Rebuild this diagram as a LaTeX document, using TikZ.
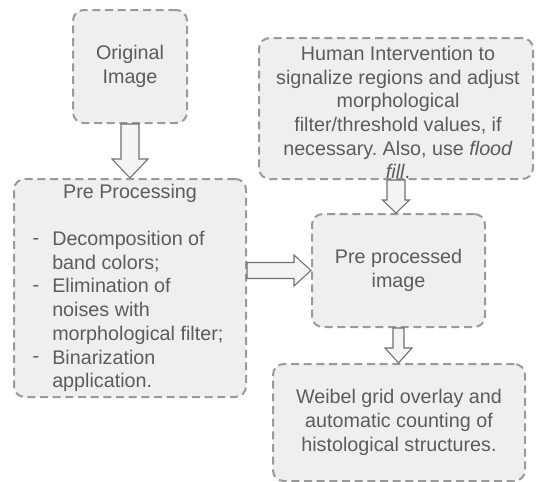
\documentclass[tikz,border=0pt]{standalone}
\usepackage{fontspec}
\setmainfont{Liberation Sans}
\usetikzlibrary{calc}
\frenchspacing
\definecolor{txt}{HTML}{5C5C5C}
\definecolor{boxfill}{HTML}{EFEFEF}
\definecolor{boxline}{HTML}{9A9A9A}
\definecolor{arrline}{HTML}{707070}
\definecolor{arrfill}{HTML}{F4F4F4}
\begin{document}
\begin{tikzpicture}[x=0.75pt,y=-0.75pt,
  box/.style={draw=boxline,fill=boxfill,line width=1.5pt,dash pattern=on 6pt off 3.5pt,
    rounded corners=8pt,inner sep=0pt,text=txt,align=center,
    font=\fontsize{14.8}{17.8}\selectfont},
  lbl/.style={inner sep=0pt,text=txt,font=\fontsize{14.8}{17.8}\selectfont},
  blk/.style={draw=arrline,fill=arrfill,line width=0.8pt,line join=miter}]
\useasboundingbox (0,0) rectangle (537,482);
% boxes
\node[box,minimum width=114*0.75pt,minimum height=113*0.75pt] (orig) at (130,66.5) {Original\\Image};
\node[box,minimum width=232*0.75pt,minimum height=218*0.75pt] (pre) at (130,288) {};
\node[box,minimum width=274*0.75pt,minimum height=141*0.75pt] (human) at (396,108.5) {};
\node[box,minimum width=173*0.75pt,minimum height=113*0.75pt] (ppi) at (398.5,270.5) {Pre processed\\image};
\node[box,minimum width=252*0.75pt,minimum height=117*0.75pt] (weibel) at (399,422.5) {Weibel grid overlay and\\automatic counting of\\histological structures.};
% texts
\node[lbl,align=center] (humantxt) at (398,112.5) {Human Intervention to\\signalize regions and adjust\\morphological\\filter/threshold values, if\\necessary. Also, use \textit{flood}\\\textit{fill}.};
\node[lbl] (pretitle) at (130,193) {Pre Processing};
\node[lbl,align=left,anchor=west] (prelist) at (52,311.5) {Decomposition of\\band colors;\\Elimination of\\noises with\\morphological filter;\\Binarization\\application.};
\node[lbl] (d1) at (36,241) {-};
\node[lbl] (d2) at (36,288) {-};
\node[lbl] (d3) at (36,359) {-};
% arrows
\coordinate (a1s) at (orig.south);
\coordinate (a1e) at (orig.south |- pre.north);
\draw[blk] ($(a1s)+(-9,0)$) -- ($(a1e)+(-9,-19)$) -- ($(a1e)+(-18,-19)$) -- (a1e) -- ($(a1e)+(18,-19)$) -- ($(a1e)+(9,-19)$) -- ($(a1s)+(9,0)$) -- cycle;
\coordinate (a2s) at (pre.east |- ppi.west);
\coordinate (a2e) at (ppi.west);
\draw[blk] ($(a2s)+(0,-8)$) -- ($(a2e)+(-17,-8)$) -- ($(a2e)+(-17,-15.5)$) -- (a2e) -- ($(a2e)+(-17,15.5)$) -- ($(a2e)+(-17,8)$) -- ($(a2s)+(0,8)$) -- cycle;
\coordinate (a3s) at (human.south);
\coordinate (a3e) at (human.south |- ppi.north);
\draw[blk] ($(a3s)+(-9,0)$) -- ($(a3e)+(-9,-13)$) -- ($(a3e)+(-13.5,-13)$) -- (a3e) -- ($(a3e)+(13.5,-13)$) -- ($(a3e)+(9,-13)$) -- ($(a3s)+(9,0)$) -- cycle;
\coordinate (a4s) at (ppi.south);
\coordinate (a4e) at (ppi.south |- weibel.north);
\draw[blk] ($(a4s)+(-5.5,0)$) -- ($(a4e)+(-5.5,-15)$) -- ($(a4e)+(-13.5,-15)$) -- (a4e) -- ($(a4e)+(13.5,-15)$) -- ($(a4e)+(5.5,-15)$) -- ($(a4s)+(5.5,0)$) -- cycle;
\end{tikzpicture}
\end{document}
